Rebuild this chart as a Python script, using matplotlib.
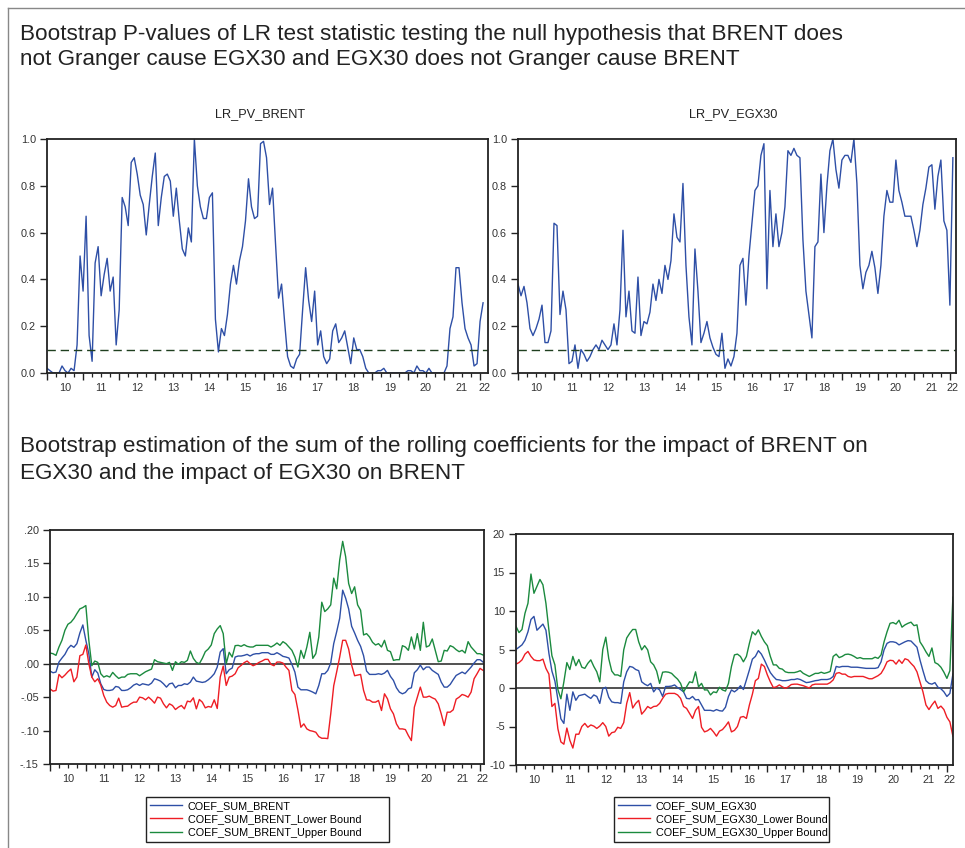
import numpy as np
import pandas as pd
import matplotlib
matplotlib.use("Agg")
import matplotlib.pyplot as plt
from matplotlib.lines import Line2D
from matplotlib.ticker import FixedLocator, FuncFormatter

plt.rcParams['font.family'] = ['Liberation Sans', 'DejaVu Sans']

# ---------------- data (monthly, starting Jan 2010) ----------------
lr_pv_brent = [0.02,0.01,0.0,0.0,0.0,0.03,0.01,0.0,0.02,0.01,
 0.12,0.50,0.35,0.67,0.16,0.05,0.47,0.54,0.33,0.42,
 0.49,0.35,0.41,0.12,0.27,0.75,0.71,0.63,0.90,0.92,
 0.85,0.76,0.72,0.59,0.72,0.84,0.94,0.63,0.75,0.84,
 0.85,0.82,0.67,0.79,0.65,0.53,0.50,0.62,0.56,1.0,
 0.80,0.71,0.66,0.66,0.75,0.77,0.23,0.09,0.19,0.16,
 0.25,0.38,0.46,0.38,0.48,0.54,0.65,0.83,0.71,0.66,
 0.67,0.98,0.99,0.92,0.72,0.79,0.55,0.32,0.38,0.22,
 0.07,0.03,0.02,0.06,0.08,0.27,0.45,0.31,0.22,0.35,
 0.12,0.18,0.07,0.04,0.06,0.18,0.21,0.13,0.15,0.18,
 0.11,0.04,0.15,0.10,0.10,0.07,0.02,0.0,0.0,0.0,
 0.01,0.01,0.02,0.0,0.0,0.0,0.0,0.0,0.0,0.0,
 0.01,0.01,0.0,0.03,0.01,0.01,0.0,0.02,0.0,0.0,
 0.0,0.0,0.0,0.03,0.19,0.24,0.45,0.45,0.30,0.19,
 0.15,0.12,0.03,0.04,0.22,0.30]

lr_pv_egx30 = [0.38,0.33,0.37,0.30,0.19,0.16,0.19,0.23,0.29,0.13,
 0.13,0.18,0.64,0.63,0.25,0.35,0.27,0.04,0.05,0.12,
 0.02,0.10,0.08,0.05,0.07,0.10,0.12,0.10,0.14,0.12,
 0.10,0.12,0.21,0.12,0.27,0.61,0.24,0.35,0.18,0.17,
 0.41,0.16,0.22,0.21,0.26,0.38,0.31,0.40,0.34,0.46,
 0.40,0.48,0.68,0.58,0.56,0.81,0.46,0.24,0.12,0.53,
 0.35,0.13,0.17,0.22,0.15,0.11,0.08,0.07,0.17,0.02,
 0.06,0.03,0.07,0.17,0.46,0.49,0.29,0.50,0.64,0.78,
 0.80,0.93,0.98,0.36,0.78,0.54,0.68,0.54,0.60,0.71,
 0.95,0.93,0.96,0.93,0.92,0.57,0.35,0.25,0.15,0.54,
 0.56,0.85,0.60,0.80,0.95,1.0,0.87,0.79,0.91,0.93,
 0.93,0.90,1.0,0.81,0.46,0.36,0.43,0.46,0.52,0.45,
 0.34,0.46,0.67,0.78,0.73,0.73,0.91,0.78,0.73,0.67,
 0.67,0.67,0.61,0.54,0.61,0.72,0.79,0.88,0.89,0.70,
 0.84,0.91,0.65,0.61,0.29,0.92]

coef_sum_brent = [-0.011,-0.0135,-0.0125,0.0025,0.0085,0.014,0.0225,0.0275,0.0245,0.03,
 0.046,0.058,0.035,0.015,-0.02,-0.009,-0.014,-0.03,-0.0385,-0.04,
 -0.04,-0.039,-0.034,-0.035,-0.04,-0.04,-0.039,-0.036,-0.032,-0.03,
 -0.0325,-0.03,-0.031,-0.032,-0.029,-0.0225,-0.024,-0.026,-0.03,-0.035,
 -0.03,-0.029,-0.036,-0.0325,-0.0325,-0.03,-0.031,-0.0275,-0.02,-0.026,
 -0.027,-0.028,-0.027,-0.024,-0.02,-0.015,-0.005,0.0175,0.0225,-0.015,
 -0.009,-0.0065,0.01,0.0115,0.0115,0.0125,0.014,0.0115,0.014,0.015,
 0.015,0.0165,0.0165,0.0165,0.014,0.014,0.0165,0.014,0.011,0.01,
 0.0085,-0.001,-0.0125,-0.035,-0.039,-0.039,-0.039,-0.0405,-0.0425,-0.045,
 -0.0325,-0.015,-0.015,-0.01,0.001,0.03,0.048,0.068,0.11,0.098,
 0.082,0.056,0.046,0.035,0.026,0.012,-0.011,-0.016,-0.016,-0.016,
 -0.015,-0.016,-0.014,-0.01,-0.019,-0.025,-0.036,-0.0425,-0.045,-0.043,
 -0.0375,-0.036,-0.0135,-0.009,-0.002,-0.009,-0.005,-0.005,-0.01,-0.013,
 -0.016,-0.0275,-0.035,-0.035,-0.031,-0.024,-0.0175,-0.015,-0.0125,-0.015,
 -0.01,-0.005,0.001,0.006,0.006,0.0025]

coef_sum_brent_lower = [-0.0375,-0.041,-0.04,-0.016,-0.021,-0.017,-0.012,-0.008,-0.027,-0.02,
 0.012,0.014,0.028,0.0,-0.02,-0.027,-0.0225,-0.032,-0.0475,-0.0575,
 -0.0625,-0.065,-0.0625,-0.0515,-0.065,-0.064,-0.0635,-0.06,-0.0575,-0.0575,
 -0.05,-0.051,-0.054,-0.05,-0.054,-0.059,-0.05,-0.0515,-0.06,-0.066,
 -0.06,-0.0625,-0.0685,-0.065,-0.0625,-0.0675,-0.056,-0.057,-0.051,-0.0675,
 -0.0535,-0.0575,-0.066,-0.064,-0.065,-0.054,-0.067,-0.02,-0.0035,-0.0325,
 -0.02,-0.0185,-0.015,-0.006,-0.0025,0.0015,0.004,0.0,-0.003,-0.001,
 0.002,0.004,0.0065,0.0065,-0.001,-0.003,0.0025,0.0025,0.001,-0.005,
 -0.01,-0.04,-0.046,-0.069,-0.095,-0.09,-0.0975,-0.1,-0.101,-0.1025,
 -0.109,-0.1115,-0.1115,-0.112,-0.075,-0.033,-0.012,0.01,0.035,0.035,
 0.022,-0.002,-0.018,-0.017,-0.016,-0.04,-0.054,-0.0545,-0.0575,-0.0575,
 -0.055,-0.07,-0.045,-0.0525,-0.0675,-0.075,-0.09,-0.0975,-0.0975,-0.0985,
 -0.1075,-0.115,-0.065,-0.05,-0.035,-0.05,-0.05,-0.0485,-0.051,-0.053,
 -0.06,-0.075,-0.0925,-0.0725,-0.0725,-0.069,-0.053,-0.05,-0.046,-0.0475,
 -0.05,-0.0425,-0.0225,-0.015,-0.007,-0.01]

coef_sum_brent_upper = [0.016,0.015,0.0125,0.025,0.035,0.05,0.059,0.062,0.0675,0.075,
 0.082,0.084,0.087,0.035,-0.003,0.004,0.002,-0.015,-0.02,-0.018,
 -0.02,-0.013,-0.018,-0.022,-0.02,-0.02,-0.016,-0.015,-0.015,-0.015,
 -0.018,-0.015,-0.012,-0.01,-0.008,0.006,0.003,0.002,0.001,0.0,
 0.002,-0.01,0.003,-0.001,0.003,0.002,0.005,0.019,0.008,0.002,
 0.0,0.008,0.018,0.022,0.028,0.045,0.052,0.057,0.045,0.0,
 0.017,0.01,0.027,0.0275,0.026,0.0285,0.026,0.025,0.025,0.0275,
 0.0275,0.0275,0.0275,0.0275,0.025,0.0275,0.031,0.0275,0.033,0.03,
 0.025,0.02,0.01,-0.005,0.02,0.008,0.025,0.047,0.008,0.015,
 0.04,0.092,0.078,0.082,0.088,0.128,0.112,0.155,0.183,0.16,
 0.12,0.105,0.115,0.088,0.08,0.043,0.045,0.04,0.032,0.028,
 0.03,0.025,0.035,0.02,0.018,0.005,0.006,0.006,0.027,0.025,
 0.02,0.04,0.022,0.045,0.02,0.062,0.025,0.027,0.037,0.02,
 0.003,0.004,0.02,0.019,0.027,0.025,0.021,0.018,0.02,0.016,
 0.033,0.025,0.02,0.015,0.015,0.013]

coef_sum_egx30 = [5.0,5.3,5.6,6.2,7.3,8.9,9.3,7.5,7.9,8.3,
 7.5,4.5,2.2,0.9,-1.5,-4.0,-4.6,-0.8,-2.9,-0.5,
 -1.6,-1.0,-0.9,-0.8,-1.1,-1.35,-0.9,-1.1,-2.0,-0.1,
 0.1,-1.2,-1.8,-1.9,-1.9,-2.0,0.8,2.1,2.8,2.7,
 2.4,2.25,0.8,0.5,0.3,0.6,-0.5,0.0,-0.25,-1.1,
 0.2,0.2,0.25,0.4,0.05,-0.2,-0.5,-1.35,-1.4,-1.1,
 -1.55,-1.5,-2.2,-2.9,-2.9,-2.9,-3.0,-2.8,-2.95,-3.0,
 -2.5,-1.1,-0.25,-0.5,-0.2,0.3,-0.2,1.05,2.35,3.75,
 4.1,4.85,4.4,3.65,2.8,2.0,1.5,1.1,1.05,0.95,
 0.95,1.0,1.1,1.1,1.2,1.1,0.9,0.7,0.75,0.85,
 0.95,1.0,1.1,1.1,1.1,1.2,1.5,2.8,2.7,2.8,
 2.8,2.8,2.7,2.7,2.7,2.65,2.6,2.55,2.55,2.55,
 2.55,2.65,3.4,4.95,5.8,6.0,6.0,5.9,5.6,5.8,
 6.0,6.15,6.1,5.7,5.3,3.65,2.25,0.95,0.6,0.5,
 0.7,0.1,-0.1,-0.5,-1.1,-0.7,1.8]

coef_sum_egx30_lower = [3.1,3.3,3.65,4.4,4.75,4.1,3.65,3.55,3.55,3.75,
 2.55,1.8,-2.4,-2.0,-5.3,-7.0,-7.3,-5.2,-6.8,-7.8,
 -6.0,-6.0,-5.0,-4.6,-5.1,-4.8,-4.95,-5.25,-4.95,-4.5,
 -5.0,-6.25,-5.8,-5.7,-5.1,-5.25,-4.5,-2.0,-0.6,-2.6,
 -2.0,-1.6,-3.4,-2.95,-2.4,-2.65,-2.4,-2.35,-2.0,-1.35,
 -0.8,-0.7,-0.7,-0.7,-0.9,-1.35,-2.4,-2.65,-3.3,-3.95,
 -2.9,-2.4,-5.1,-5.7,-5.55,-5.25,-5.7,-6.25,-5.6,-5.4,
 -4.95,-4.4,-5.7,-5.5,-5.0,-3.8,-3.7,-3.95,-2.2,-0.8,
 0.95,1.25,3.1,2.8,1.7,0.8,0.05,0.15,0.4,0.15,
 -0.05,0.15,0.45,0.5,0.5,0.4,0.3,0.15,0.0,0.4,
 0.5,0.5,0.5,0.5,0.5,0.7,1.05,1.9,2.0,1.8,
 1.8,1.5,1.4,1.5,1.5,1.5,1.5,1.35,1.2,1.2,
 1.4,1.6,1.9,2.55,3.4,3.6,3.55,3.1,3.65,3.2,
 3.8,3.65,3.2,2.8,2.1,0.8,-0.5,-2.2,-2.8,-2.2,
 -1.7,-2.65,-2.35,-2.8,-3.8,-4.4,-6.25]

coef_sum_egx30_upper = [8.0,7.2,7.6,9.7,11.0,14.8,12.3,13.2,14.1,13.4,
 11.0,7.5,4.2,3.0,-0.2,-1.4,0.8,3.3,2.4,4.1,
 2.9,3.7,2.7,2.55,3.2,3.65,2.8,2.1,0.8,5.0,
 6.6,3.8,2.2,1.7,1.7,1.5,4.95,6.5,7.1,7.6,
 7.6,6.0,4.95,5.5,4.95,3.4,3.0,2.2,0.6,2.05,
 2.1,2.05,1.9,1.5,1.15,0.6,-0.5,0.15,0.8,0.7,
 2.1,0.15,0.6,-0.25,-0.25,-0.9,-0.5,-0.6,0.1,-0.25,
 -0.4,0.6,2.8,4.3,4.4,4.1,3.4,4.1,5.8,7.3,
 6.9,7.55,6.7,6.0,5.5,4.1,3.0,3.0,2.55,2.45,
 2.1,2.0,2.0,2.0,2.1,2.25,1.9,1.7,1.5,1.7,
 1.9,1.9,2.05,1.9,2.0,2.15,4.1,4.4,3.95,4.1,
 4.35,4.4,4.3,4.1,3.85,3.95,3.8,3.8,3.8,3.8,
 4.0,3.85,4.3,6.0,7.3,8.4,8.5,8.3,8.8,7.9,
 8.2,8.4,8.55,8.1,8.2,6.0,5.4,4.7,4.1,5.2,
 3.3,3.1,2.7,2.05,1.25,2.25,11.8]

year_labels = ["10", "11", "12", "13", "14", "15", "16", "17", "18", "19", "20", "21", "22"]
pv_threshold = 0.1

titles_top = ["Bootstrap P-values of LR test statistic testing the null hypothesis that BRENT does",
              "not Granger cause EGX30 and EGX30 does not Granger cause BRENT"]
titles_bottom = ["Bootstrap estimation of the sum of the rolling coefficients for the impact of BRENT on",
                 "EGX30 and the impact of EGX30 on BRENT"]

# ---------------- helpers ----------------
W, H = 965, 848
BLUE = '#2E4FA6'
RED = '#EE1D24'
GREEN = '#1B8A3E'
TITLE_FS = 16.2


def decimal_years(n):
    d = pd.date_range('2010-01-01', periods=n, freq='MS')
    return d.year + (d.month - 1) / 12.0


def rect(l, t, r, b):
    return [l / W, 1 - b / H, (r - l) / W, (b - t) / H]


def style_axis(ax, xmax, yticks, yfmt):
    ax.set_xlim(2010, xmax)
    ax.set_ylim(yticks[0], yticks[-1])
    for s in ax.spines.values():
        s.set_linewidth(1.3)
        s.set_color('#222222')
    ax.xaxis.set_major_locator(FixedLocator(np.arange(2010, 2023)))
    ax.xaxis.set_minor_locator(FixedLocator(np.arange(2010, xmax, 0.25)))
    ax.tick_params(axis='x', which='major', length=5, width=1.0, direction='out',
                   labelbottom=False, color='#222222')
    ax.tick_params(axis='x', which='minor', length=3, width=0.9, direction='out', color='#222222')
    ax.yaxis.set_major_locator(FixedLocator(yticks))
    ax.yaxis.set_major_formatter(FuncFormatter(yfmt))
    ax.tick_params(axis='y', which='major', length=5, width=1.0, direction='out',
                   labelsize=7.8, pad=3, labelcolor='#333333', color='#222222')
    years = np.arange(2010, 2023)
    for yr, lbl in zip(years, year_labels):
        xc = yr + 0.5 if yr + 1 <= xmax else (yr + xmax) / 2.0
        ax.annotate(lbl, xy=(xc, 0), xycoords=('data', 'axes fraction'),
                    xytext=(0, -7), textcoords='offset points', ha='center', va='top',
                    fontsize=7.8, color='#333333')


fig = plt.figure(figsize=(W / 100, H / 100), dpi=100)

# outer frame (top and left)
fig.add_artist(Line2D([8 / W, 8 / W], [0, 1 - 8 / H], color='#888888', lw=1.0))
fig.add_artist(Line2D([8 / W, 1], [1 - 8 / H, 1 - 8 / H], color='#888888', lw=1.0))

# section titles
fig.text(20 / W, 1 - 40 / H, titles_top[0], fontsize=TITLE_FS, color='#222222', va='baseline')
fig.text(20 / W, 1 - 65 / H, titles_top[1], fontsize=TITLE_FS, color='#222222', va='baseline')
fig.text(20 / W, 1 - 452 / H, titles_bottom[0], fontsize=TITLE_FS, color='#222222', va='baseline')
fig.text(20 / W, 1 - 479 / H, titles_bottom[1], fontsize=TITLE_FS, color='#222222', va='baseline')

fmt1 = lambda v, p: f"{v:.1f}"
fmt2 = lambda v, p: (f"{v:.2f}".replace("0.", ".", 1))
fmt3 = lambda v, p: f"{v:.0f}"

# ---- top-left ----
ax1 = fig.add_axes(rect(47, 139, 488, 373))
x1 = decimal_years(len(lr_pv_brent))
ax1.plot(x1, lr_pv_brent, color=BLUE, lw=1.0)
ax1.axhline(pv_threshold, color='#1f3f1f', lw=1.0, ls=(0, (6, 3.5)))
style_axis(ax1, 2022.22, np.round(np.arange(0, 1.01, 0.2), 1), fmt1)
fig.text(260 / W, 1 - 117 / H, "LR_PV_BRENT", fontsize=9.2, ha='center', va='baseline', color='#222222')

# ---- top-right ----
ax2 = fig.add_axes(rect(518, 139, 956, 373))
x2 = decimal_years(len(lr_pv_egx30))
ax2.plot(x2, lr_pv_egx30, color=BLUE, lw=1.0)
ax2.axhline(pv_threshold, color='#1f3f1f', lw=1.0, ls=(0, (6, 3.5)))
style_axis(ax2, 2022.17, np.round(np.arange(0, 1.01, 0.2), 1), fmt1)
fig.text(733 / W, 1 - 117 / H, "LR_PV_EGX30", fontsize=9.2, ha='center', va='baseline', color='#222222')

legend_kw = dict(loc='upper left', mode='expand', fontsize=7.8, frameon=True, fancybox=False,
                 edgecolor='#222222', framealpha=1, handlelength=3.0, handletextpad=0.5,
                 labelspacing=0.32, borderpad=0.35, borderaxespad=0)

# ---- bottom-left ----
ax3 = fig.add_axes(rect(50, 530, 484, 764))
x3 = decimal_years(len(coef_sum_brent))
ax3.axhline(0, color='#333333', lw=1.2)
l1, = ax3.plot(x3, coef_sum_brent, color=BLUE, lw=1.0)
l2, = ax3.plot(x3, coef_sum_brent_lower, color=RED, lw=1.0)
l3, = ax3.plot(x3, coef_sum_brent_upper, color=GREEN, lw=1.0)
style_axis(ax3, 2022.11, np.round(np.arange(-0.15, 0.201, 0.05), 2), fmt2)
fig.legend([l1, l2, l3], ["COEF_SUM_BRENT", "COEF_SUM_BRENT_Lower Bound", "COEF_SUM_BRENT_Upper Bound"],
           bbox_to_anchor=(146 / W, 1 - 844 / H, 243 / W, 47 / H), **legend_kw)

# ---- bottom-right ----
ax4 = fig.add_axes(rect(516, 534, 953, 765))
x4 = decimal_years(len(coef_sum_egx30))
ax4.axhline(0, color='#333333', lw=1.2)
m1, = ax4.plot(x4, coef_sum_egx30, color=BLUE, lw=1.0)
m2, = ax4.plot(x4, coef_sum_egx30_lower, color=RED, lw=1.0)
m3, = ax4.plot(x4, coef_sum_egx30_upper, color=GREEN, lw=1.0)
style_axis(ax4, 2022.17, np.arange(-10, 21, 5), fmt3)
fig.legend([m1, m2, m3], ["COEF_SUM_EGX30", "COEF_SUM_EGX30_Lower Bound", "COEF_SUM_EGX30_Upper Bound"],
           bbox_to_anchor=(614 / W, 1 - 844 / H, 215 / W, 47 / H), **legend_kw)

for lg in fig.legends:
    lg.get_frame().set_linewidth(1.0)

fig.savefig("out.png", dpi=100, facecolor='white')
